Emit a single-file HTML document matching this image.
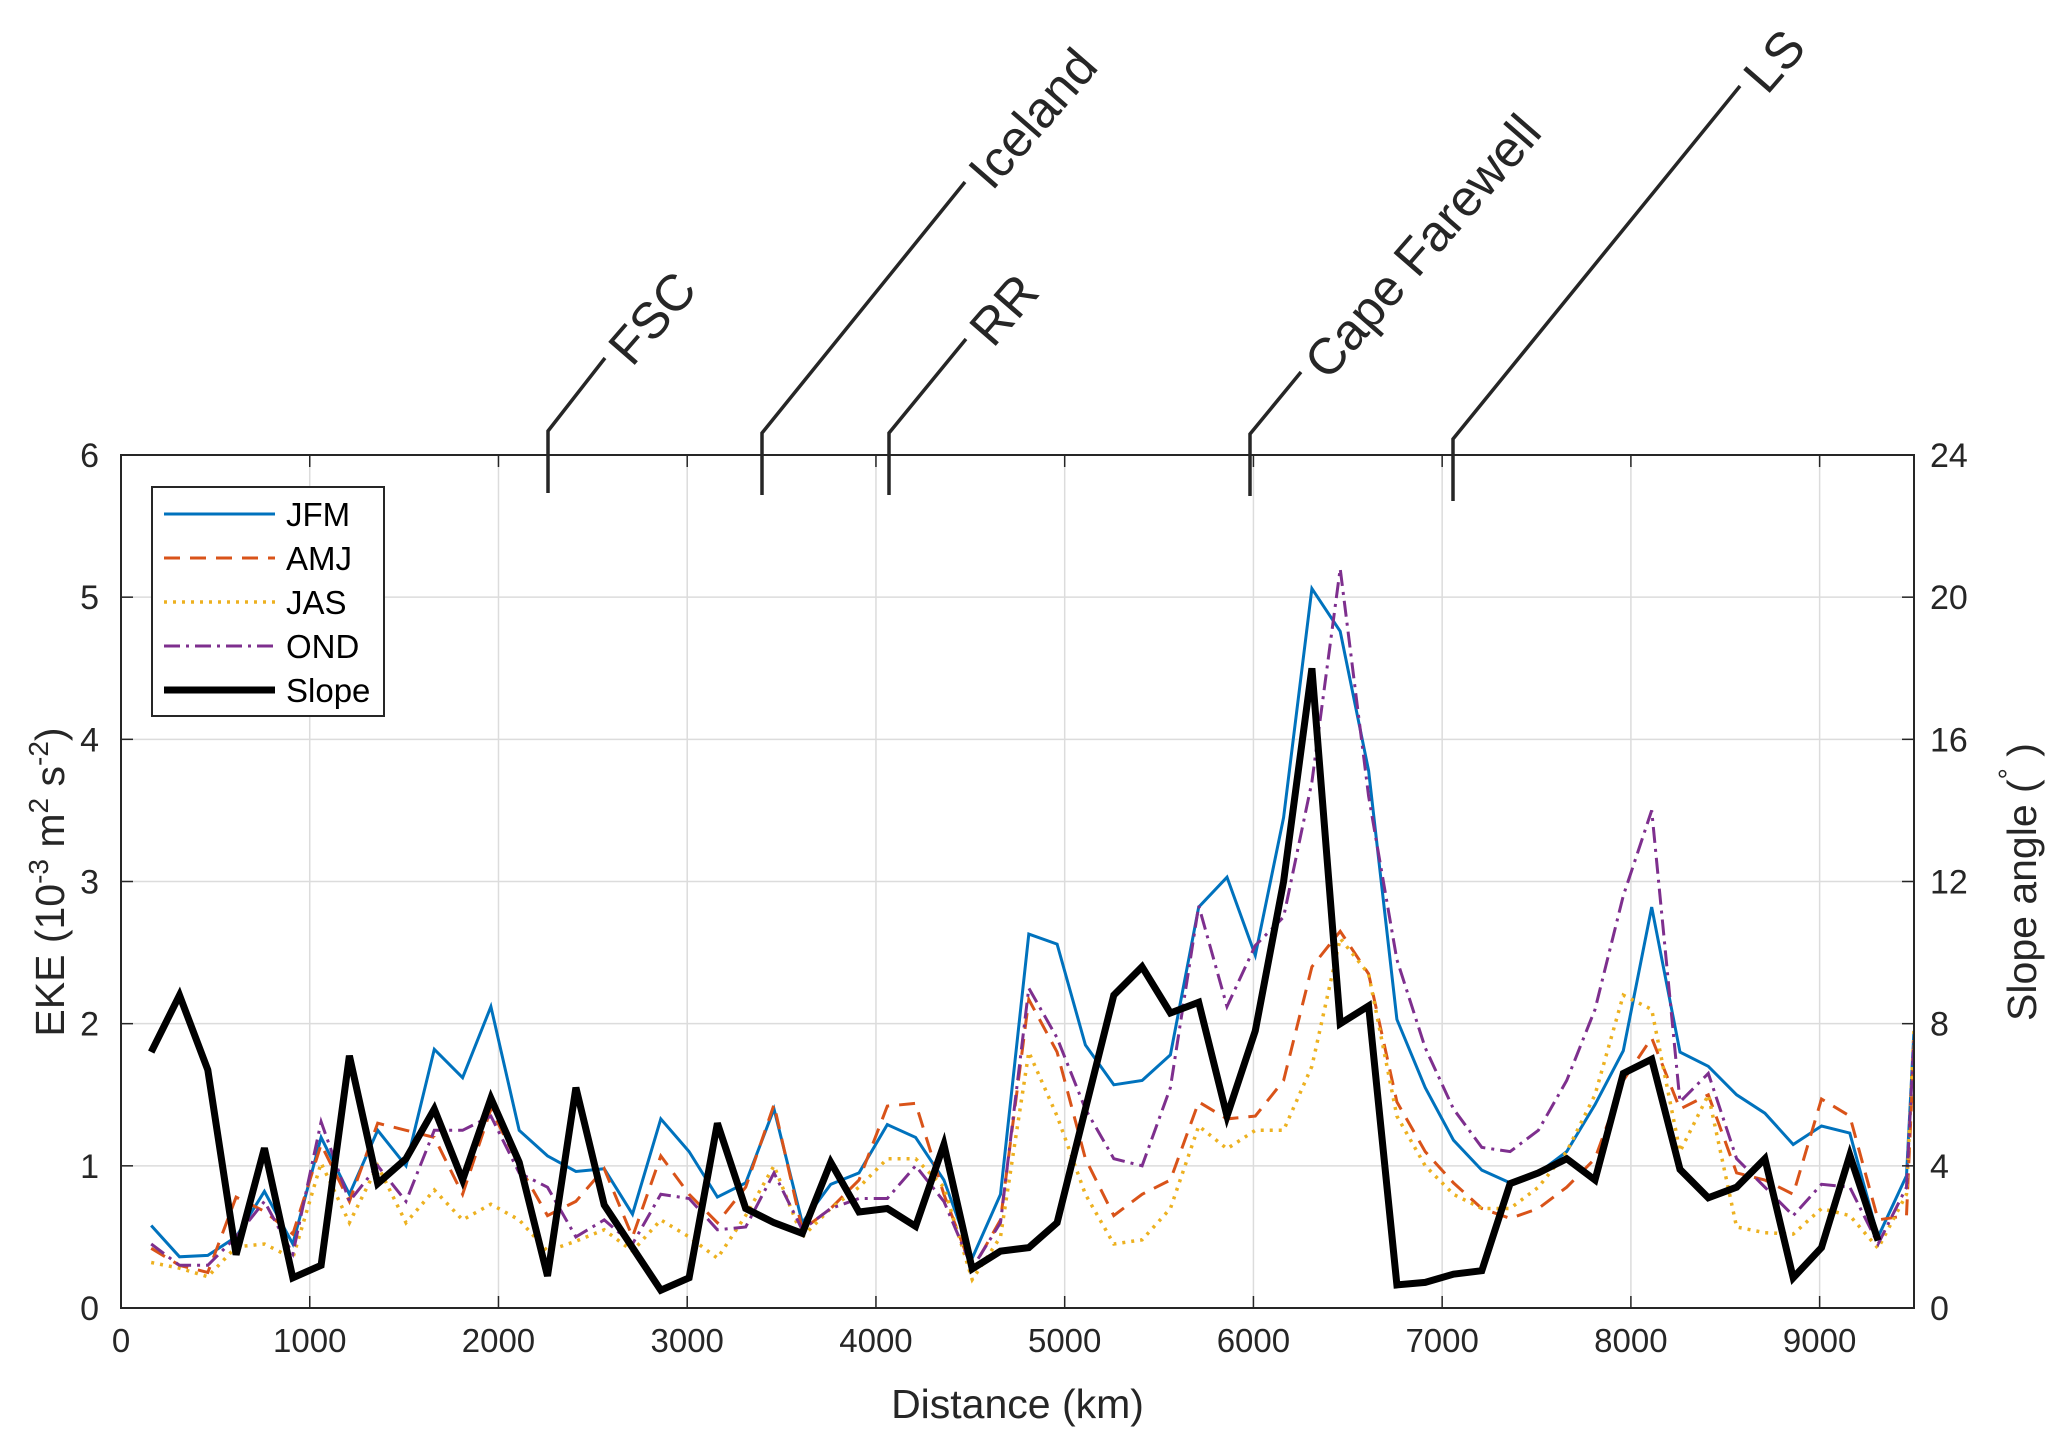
<!DOCTYPE html>
<html><head><meta charset="utf-8"><style>
html,body{margin:0;padding:0;background:#fff;}
svg{display:block;font-family:"Liberation Sans",Arial,sans-serif;}
</style></head><body>
<svg id="chart" width="2067" height="1447" viewBox="0 0 2067 1447">
<rect width="2067" height="1447" fill="#fff"/>
<g id="grid"></g>
<g id="series"></g>
<g id="axes"></g>
<g id="annot"></g>
<g id="legend"></g>
</svg>
<script>
const distances=[160,310,460,610,760,910,1060,1210,1360,1510,1660,1810,1960,2110,2260,2410,2560,2710,2860,3010,3160,3310,3460,3610,3760,3910,4060,4210,4360,4510,4660,4810,4960,5110,5260,5410,5560,5710,5860,6010,6160,6310,6460,6610,6760,6910,7060,7210,7360,7510,7660,7810,7960,8110,8260,8410,8560,8710,8860,9010,9160,9310,9460,9500];
const jfm=[0.58,0.36,0.37,0.5,0.82,0.45,1.2,0.8,1.25,1.0,1.82,1.62,2.12,1.25,1.07,0.96,0.98,0.66,1.33,1.1,0.78,0.88,1.4,0.6,0.87,0.95,1.29,1.2,0.9,0.35,0.8,2.63,2.56,1.85,1.57,1.6,1.78,2.82,3.03,2.48,3.45,5.06,4.76,3.78,2.03,1.55,1.18,0.97,0.88,0.95,1.1,1.43,1.81,2.82,1.8,1.7,1.5,1.37,1.15,1.28,1.23,0.5,0.93,1.95];
const amj=[0.42,0.3,0.25,0.78,0.68,0.52,1.15,0.75,1.3,1.25,1.2,0.8,1.4,1.0,0.65,0.75,0.98,0.5,1.07,0.8,0.6,0.85,1.43,0.55,0.7,0.9,1.42,1.44,0.8,0.27,0.62,2.17,1.8,1.05,0.65,0.8,0.9,1.45,1.33,1.35,1.6,2.4,2.65,2.35,1.45,1.1,0.88,0.7,0.63,0.7,0.85,1.05,1.6,1.9,1.4,1.5,0.95,0.9,0.8,1.47,1.35,0.62,0.65,1.85];
const jas=[0.32,0.28,0.22,0.43,0.45,0.35,1.02,0.6,1.0,0.6,0.83,0.62,0.73,0.62,0.4,0.47,0.55,0.4,0.62,0.5,0.35,0.65,1.0,0.5,0.7,0.85,1.05,1.05,0.85,0.2,0.5,1.8,1.35,0.8,0.45,0.48,0.7,1.28,1.12,1.25,1.25,1.7,2.6,2.35,1.35,1.0,0.8,0.7,0.7,0.85,1.1,1.5,2.2,2.1,1.1,1.5,0.57,0.53,0.52,0.7,0.65,0.42,0.8,1.95];
const ond=[0.45,0.3,0.3,0.5,0.75,0.38,1.31,0.75,1.0,0.75,1.25,1.25,1.35,0.95,0.85,0.5,0.62,0.45,0.8,0.77,0.55,0.57,0.95,0.55,0.7,0.77,0.77,1.0,0.75,0.28,0.6,2.25,1.9,1.4,1.05,1.0,1.55,2.83,2.12,2.55,2.75,3.7,5.2,3.6,2.45,1.83,1.4,1.13,1.1,1.25,1.6,2.1,2.9,3.5,1.45,1.65,1.05,0.85,0.65,0.87,0.85,0.45,0.85,1.9];
const slopeDeg=[7.2,8.8,6.7,1.5,4.5,0.85,1.2,7.1,3.5,4.2,5.6,3.6,5.9,4.1,0.9,6.2,2.9,1.7,0.5,0.85,5.2,2.8,2.4,2.1,4.1,2.7,2.8,2.3,4.6,1.1,1.6,1.7,2.4,5.6,8.8,9.6,8.3,8.6,5.4,7.8,12.0,18.0,8.0,8.5,0.65,0.72,0.95,1.05,3.5,3.8,4.2,3.6,6.6,7.0,3.9,3.1,3.4,4.2,0.85,1.7,4.3,1.9];
const xTicks=[0,1000,2000,3000,4000,5000,6000,7000,8000,9000];
const yTicks=[0,1,2,3,4,5,6];
const y2Ticks=[0,4,8,12,16,20,24];
const siteNames=["FSC","Iceland","RR","Cape Farewell","LS"];

const L=121,R=1914,T=455,B=1308;
const NS="http://www.w3.org/2000/svg";
const X=d=>L+(d/9500)*(R-L);
const Y=v=>B-(v/6)*(B-T);
const Y2=v=>B-(v/24)*(B-T);
function mk(tag,attrs,parent,text){const e=document.createElementNS(NS,tag);for(const k in attrs)e.setAttribute(k,attrs[k]);if(text!==undefined)e.textContent=text;parent.appendChild(e);return e;}
const grid=document.getElementById('grid'),axes=document.getElementById('axes'),ser=document.getElementById('series'),ann=document.getElementById('annot'),leg=document.getElementById('legend');

xTicks.forEach(t=>{
 const g=mk('line',{x1:X(t),x2:X(t),y1:T,y2:B,stroke:'#dcdcdc','stroke-width':1.5},grid);
 
 
 mk('line',{x1:X(t),x2:X(t),y1:B,y2:B-12,stroke:'#262626','stroke-width':1.5},axes);
 mk('line',{x1:X(t),x2:X(t),y1:T,y2:T+12,stroke:'#262626','stroke-width':1.5},axes);
 const l=mk('text',{x:X(t),y:B+44,'text-anchor':'middle','font-size':33,fill:'#262626'},axes,String(t));
 
 
});
yTicks.forEach(t=>{
 const g=mk('line',{x1:L,x2:R,y1:Y(t),y2:Y(t),stroke:'#dcdcdc','stroke-width':1.5},grid);
 
 
 mk('line',{x1:L,x2:L+12,y1:Y(t),y2:Y(t),stroke:'#262626','stroke-width':1.5},axes);
 const l=mk('text',{x:L-22,y:Y(t)+12,'text-anchor':'end','font-size':34,fill:'#262626'},axes,String(t));
 
 
});
y2Ticks.forEach(t=>{
 mk('line',{x1:R,x2:R-12,y1:Y2(t),y2:Y2(t),stroke:'#262626','stroke-width':1.5},axes);
 const l=mk('text',{x:R+16,y:Y2(t)+12,'text-anchor':'start','font-size':34,fill:'#262626'},axes,String(t));
 
 
});
const fr=mk('rect',{x:L,y:T,width:R-L,height:B-T,fill:'none',stroke:'#262626','stroke-width':2},axes);


const xl=mk('text',{x:(L+R)/2,y:1418,'text-anchor':'middle','font-size':41,fill:'#262626'},axes,'Distance (km)');


const yl=mk('text',{transform:'translate(64,882) rotate(-90)','text-anchor':'middle','font-size':41,fill:'#262626'},axes);


yl.innerHTML='EKE (10<tspan dy="-16" font-size="28">-3</tspan><tspan dy="16">  m</tspan><tspan dy="-16" font-size="28">2</tspan><tspan dy="16"> s</tspan><tspan dy="-16" font-size="28">-2</tspan><tspan dy="16">)</tspan>';
const y2l=mk('text',{transform:'translate(2036,882) rotate(-90)','text-anchor':'middle','font-size':41,fill:'#262626'},axes);


y2l.innerHTML='Slope angle (<tspan dy="-18" font-size="28">°</tspan><tspan dy="18"> )</tspan>';

function line(vals,yf,color,w,dash,name){
 const pts=vals.map((v,i)=>X(distances[i]).toFixed(1)+','+yf(v).toFixed(1)).join(' ');
 const p=mk('polyline',{points:pts,fill:'none',stroke:color,'stroke-width':w,'stroke-dasharray':dash,'stroke-linejoin':'miter'},ser);
 
 
}
const clip=mk('clipPath',{id:'pc'},document.getElementById('chart'));
mk('rect',{x:L,y:T,width:R-L,height:B-T},clip);
ser.setAttribute('clip-path','url(#pc)');
line(jfm,Y,'#0072bd',3,'none','jfm-line');
line(amj,Y,'#d95319',3,'16 10','amj-line');
line(jas,Y,'#edb120',3.5,'3 6','jas-line');
line(ond,Y,'#7e2f8e',3,'16 6 3 6','ond-line');
line(slopeDeg,Y2,'#000',7,'none','slope-line');

const ext=[[548,431,605,358],[762,433,965,182],[889,433,966,339],[1250,434,1301,372],[1453,439,1740,86]];
ext.forEach((e,i)=>{
 const p=mk('polyline',{points:`${e[0]},${e[1]+62} ${e[0]},${e[1]} ${e[2]},${e[3]}`,fill:'none',stroke:'#262626','stroke-width':3.5},ann);
 
 
 const t=mk('text',{transform:`translate(${e[2]+27},${e[3]+10}) rotate(-49)`,'font-size':51,fill:'#262626'},ann,siteNames[i]);
 
 
});

const lb=mk('rect',{x:152,y:487,width:232,height:229,fill:'#fff',stroke:'#262626','stroke-width':2},leg);


const legNames=['JFM','AMJ','JAS','OND','Slope'];
const legCols=['#0072bd','#d95319','#edb120','#7e2f8e','#000'];
const legW=[3,3,3.5,3,7];
const legD=['none','16 10','3 6','16 6 3 6','none'];
legNames.forEach((n,i)=>{
 const y=514+i*44;
 mk('line',{x1:164,x2:275,y1:y,y2:y,stroke:legCols[i],'stroke-width':legW[i],'stroke-dasharray':legD[i]},leg);
 const t=mk('text',{x:286,y:y+12,'font-size':33,fill:'#000'},leg,n);
 
 
});
</script>
</body></html>
